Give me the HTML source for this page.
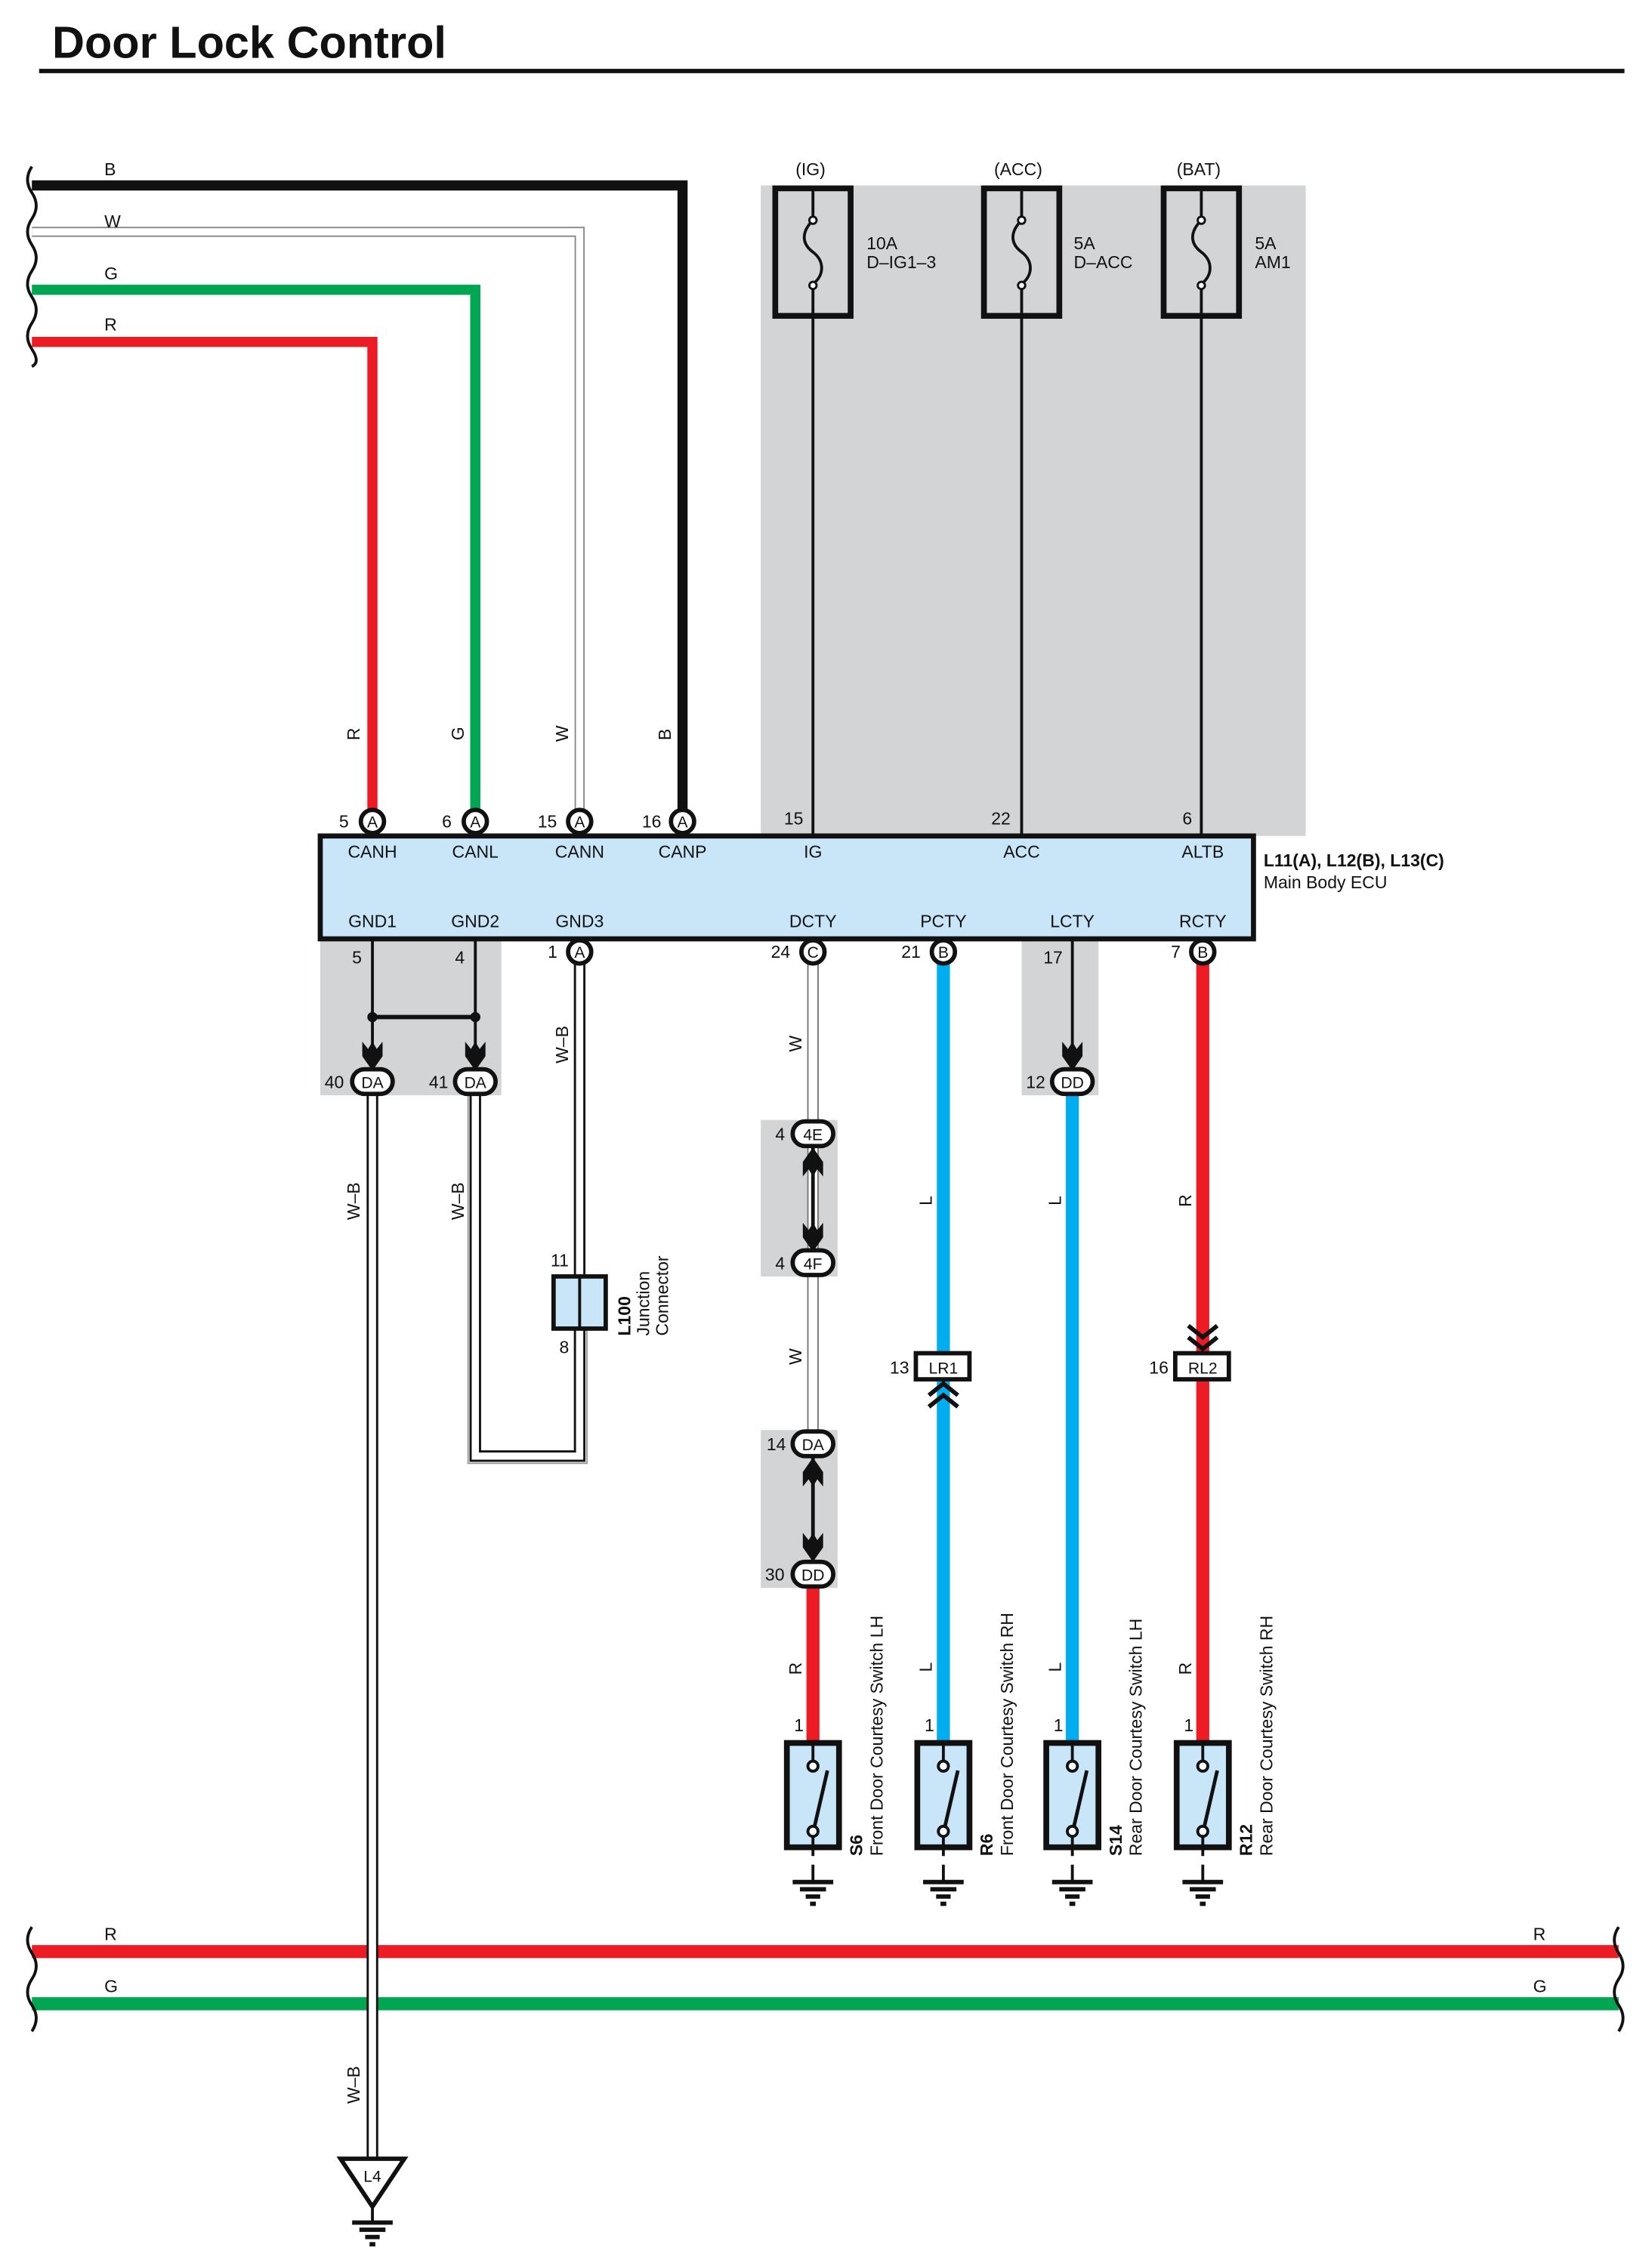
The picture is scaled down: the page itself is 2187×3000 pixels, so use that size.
<!DOCTYPE html>
<html><head><meta charset="utf-8"><style>
html,body{margin:0;padding:0;background:#fff}
svg{display:block}
text{font-family:"Liberation Sans",Arial,sans-serif;fill:#111}
</style></head><body>
<svg width="2187" height="3000" viewBox="0 0 1140 1564" preserveAspectRatio="none" xmlns="http://www.w3.org/2000/svg">
<defs>
<g id="gnd"><line x1="0" y1="0" x2="0" y2="12" stroke="#111" stroke-width="2"/><line x1="-14" y1="12" x2="14" y2="12" stroke="#111" stroke-width="3"/><line x1="-9" y1="17" x2="9" y2="17" stroke="#111" stroke-width="3"/><line x1="-5" y1="22" x2="5" y2="22" stroke="#111" stroke-width="3"/><line x1="-2" y1="27" x2="2" y2="27" stroke="#111" stroke-width="3"/></g>
<g id="sw"><rect x="-18" y="0" width="36" height="72" fill="#c8e6f8" stroke="#111" stroke-width="4"/><line x1="0" y1="0" x2="0" y2="12" stroke="#111" stroke-width="2"/><circle cx="0" cy="16" r="3.5" fill="#fff" stroke="#111" stroke-width="2"/><circle cx="0" cy="61" r="3.5" fill="#fff" stroke="#111" stroke-width="2"/><line x1="1" y1="58" x2="10" y2="19" stroke="#111" stroke-width="2.5"/><line x1="0" y1="64" x2="0" y2="78" stroke="#111" stroke-width="2"/><use href="#gnd" transform="translate(0,84)"/></g>
<g id="fuse"><rect x="-26" y="0" width="52" height="88" fill="none" stroke="#111" stroke-width="4"/><line x1="0" y1="0" x2="0" y2="20" stroke="#111" stroke-width="2"/><path d="M0,22 C-8,30 -8,38 0,44 C8,50 8,60 0,66" fill="none" stroke="#111" stroke-width="2"/><circle cx="0" cy="22" r="2.5" fill="#fff" stroke="#111" stroke-width="1.5"/><circle cx="0" cy="67" r="2.5" fill="#fff" stroke="#111" stroke-width="1.5"/><line x1="0" y1="70" x2="0" y2="88" stroke="#111" stroke-width="2"/></g>
<g id="arrD"><path d="M-7,-12 L-3,-7 L0,-12 L3,-7 L7,-12 L7,-2 L0,8 L-7,-2 Z" fill="#111"/></g>
<g id="arrU"><path d="M-7,12 L-3,7 L0,12 L3,7 L7,12 L7,2 L0,-8 L-7,2 Z" fill="#111"/></g>
</defs>

<text x="36" y="40" font-size="31" font-weight="bold">Door Lock Control</text>
<line x1="27" y1="49" x2="1121" y2="49" stroke="#111" stroke-width="3"/>

<!-- gray regions -->
<rect x="525" y="128" width="376" height="449" fill="#d3d4d6"/>
<rect x="221" y="648" width="125" height="108" fill="#d3d4d6"/>
<rect x="705" y="648" width="53" height="108" fill="#d3d4d6"/>
<rect x="525" y="773" width="53" height="108" fill="#d3d4d6"/>
<rect x="525" y="987" width="53" height="109" fill="#d3d4d6"/>

<!-- top wires -->
<polyline points="22,128 471,128 471,567" fill="none" stroke="#111" stroke-width="7"/>
<polyline points="22,160 400,160 400,567" fill="none" stroke="#888" stroke-width="7"/>
<polyline points="22,160 400,160 400,567" fill="none" stroke="#fff" stroke-width="5"/>
<polyline points="22,200 328,200 328,567" fill="none" stroke="#00a651" stroke-width="7"/>
<polyline points="22,236 257,236 257,567" fill="none" stroke="#ed1c24" stroke-width="7"/>
<path d="M22,115 q-6,9 0,18 q6,9 0,18 q-6,9 0,18 q6,9 0,18 q-6,9 0,18 q6,9 0,18 q-6,9 0,18 q6,9 0,12" fill="none" stroke="#111" stroke-width="2"/>
<g font-size="12"><text x="72" y="121">B</text><text x="72" y="157">W</text><text x="72" y="193">G</text><text x="72" y="228">R</text></g>
<g font-size="12"><text transform="translate(248,511) rotate(-90)">R</text><text transform="translate(320,511) rotate(-90)">G</text><text transform="translate(392,512) rotate(-90)">W</text><text transform="translate(463,511) rotate(-90)">B</text></g>

<!-- fuses -->
<use href="#fuse" transform="translate(561,130)"/><use href="#fuse" transform="translate(705,130)"/><use href="#fuse" transform="translate(829,130)"/>
<g stroke="#111" stroke-width="2"><line x1="561" y1="218" x2="561" y2="577"/><line x1="705" y1="218" x2="705" y2="577"/><line x1="829" y1="218" x2="829" y2="577"/></g>
<g font-size="12"><text x="549" y="121">(IG)</text><text x="686" y="121">(ACC)</text><text x="812" y="121">(BAT)</text>
<text x="598" y="172">10A</text><text x="598" y="185">D–IG1–3</text><text x="741" y="172">5A</text><text x="741" y="185">D–ACC</text><text x="866" y="172">5A</text><text x="866" y="185">AM1</text>
<text x="541" y="569">15</text><text x="684" y="569">22</text><text x="816" y="569">6</text></g>

<!-- ECU -->
<rect x="221" y="577" width="644" height="71" fill="#c8e6f8" stroke="#111" stroke-width="3.5"/>
<g font-size="12" text-anchor="middle"><text x="257" y="592">CANH</text><text x="328" y="592">CANL</text><text x="400" y="592">CANN</text><text x="471" y="592">CANP</text><text x="561" y="592">IG</text><text x="705" y="592">ACC</text><text x="830" y="592">ALTB</text>
<text x="257" y="640">GND1</text><text x="328" y="640">GND2</text><text x="400" y="640">GND3</text><text x="561" y="640">DCTY</text><text x="651" y="640">PCTY</text><text x="740" y="640">LCTY</text><text x="830" y="640">RCTY</text></g>
<text x="872" y="598" font-size="12" font-weight="bold">L11(A), L12(B), L13(C)</text>
<text x="872" y="613" font-size="12">Main Body ECU</text>

<!-- top connector circles -->
<g stroke="#111" stroke-width="3" fill="#fff"><circle cx="257" cy="567" r="8"/><circle cx="328" cy="567" r="8"/><circle cx="400" cy="567" r="8"/><circle cx="471" cy="567" r="8"/></g>
<g font-size="11" text-anchor="middle"><text x="257" y="571">A</text><text x="328" y="571">A</text><text x="400" y="571">A</text><text x="471" y="571">A</text></g>
<g font-size="12"><text x="234" y="571">5</text><text x="305" y="571">6</text><text x="371" y="571">15</text><text x="443" y="571">16</text></g>

<!-- lower wiring -->
<g stroke="#111" stroke-width="2"><line x1="257" y1="648" x2="257" y2="735"/><line x1="328" y1="648" x2="328" y2="735"/><line x1="740" y1="648" x2="740" y2="735"/></g>
<line x1="257" y1="702" x2="328" y2="702" stroke="#111" stroke-width="3"/>
<circle cx="257" cy="702" r="3.5" fill="#111"/><circle cx="328" cy="702" r="3.5" fill="#111"/>
<use href="#arrD" transform="translate(257,731)"/><use href="#arrD" transform="translate(328,731)"/><use href="#arrD" transform="translate(740,731)"/>

<!-- colored vertical wires -->
<line x1="651" y1="665" x2="651" y2="1203" stroke="#00aeef" stroke-width="9"/>
<line x1="740" y1="756" x2="740" y2="1203" stroke="#00aeef" stroke-width="9"/>
<line x1="830" y1="665" x2="830" y2="1203" stroke="#ed1c24" stroke-width="9"/>
<line x1="561" y1="1096" x2="561" y2="1203" stroke="#ed1c24" stroke-width="9"/>
<!-- W DCTY -->
<g><line x1="561" y1="665" x2="561" y2="997" stroke="#777" stroke-width="8"/><line x1="561" y1="665" x2="561" y2="997" stroke="#fff" stroke-width="6"/></g>
<line x1="561" y1="790" x2="561" y2="866" stroke="#111" stroke-width="2.5"/><use href="#arrU" transform="translate(561,800)"/><use href="#arrD" transform="translate(561,856)"/>
<line x1="561" y1="1004" x2="561" y2="1080" stroke="#111" stroke-width="2.5"/><use href="#arrU" transform="translate(561,1014)"/><use href="#arrD" transform="translate(561,1070)"/>

<!-- W-B wires -->
<g fill="none">
<polyline points="328,755 328,1005 400,1005 400,917" stroke="#111" stroke-width="8"/>
<polyline points="328,755 328,1005 400,1005 400,917" stroke="#fff" stroke-width="5"/>
<line x1="400" y1="665" x2="400" y2="881" stroke="#111" stroke-width="8"/><line x1="400" y1="665" x2="400" y2="881" stroke="#fff" stroke-width="5"/>
<polyline points="323,755 323,1010 405,1010 405,917" stroke="#999" stroke-width="1"/>
</g>

<!-- bottom horizontal wires -->
<line x1="22" y1="1347" x2="1117" y2="1347" stroke="#ed1c24" stroke-width="9"/>
<line x1="22" y1="1383" x2="1117" y2="1383" stroke="#00a651" stroke-width="9"/>
<path d="M22,1330 q-6,9 0,18 q6,9 0,18 q-6,9 0,18 q6,9 0,18" fill="none" stroke="#111" stroke-width="2"/>
<path d="M1117,1330 q-6,9 0,18 q6,9 0,18 q-6,9 0,18 q6,9 0,18" fill="none" stroke="#111" stroke-width="2"/>
<g font-size="12"><text x="72" y="1339">R</text><text x="72" y="1375">G</text><text x="1058" y="1339">R</text><text x="1058" y="1375">G</text></g>

<line x1="257" y1="755" x2="257" y2="1490" stroke="#111" stroke-width="8"/>
<line x1="257" y1="755" x2="257" y2="1490" stroke="#fff" stroke-width="5"/>
<path d="M235,1490 L279,1490 L257,1523 Z" fill="#fff" stroke="#111" stroke-width="3"/>
<text x="257" y="1506" font-size="11" text-anchor="middle">L4</text>
<use href="#gnd" transform="translate(257,1522)"/>

<!-- bottom ECU circles -->
<g stroke="#111" stroke-width="3" fill="#fff"><circle cx="400" cy="657" r="8"/><circle cx="561" cy="657" r="8"/><circle cx="651" cy="657" r="8"/><circle cx="830" cy="657" r="8"/></g>
<g font-size="11" text-anchor="middle"><text x="400" y="661">A</text><text x="561" y="661">C</text><text x="651" y="661">B</text><text x="830" y="661">B</text></g>
<g font-size="12"><text x="378" y="661">1</text><text x="532" y="661">24</text><text x="622" y="661">21</text><text x="808" y="661">7</text><text x="243" y="665">5</text><text x="314" y="665">4</text><text x="720" y="665">17</text></g>

<!-- oval connectors -->
<g stroke="#111" stroke-width="3" fill="#fff">
<rect x="243" y="738" width="28" height="17" rx="8.5"/><rect x="314" y="738" width="28" height="17" rx="8.5"/><rect x="726" y="738" width="28" height="17" rx="8.5"/>
<rect x="547" y="774" width="28" height="17" rx="8.5"/><rect x="547" y="863" width="28" height="17" rx="8.5"/>
<rect x="547" y="988" width="28" height="17" rx="8.5"/><rect x="547" y="1078" width="28" height="17" rx="8.5"/>
</g>
<g font-size="11" text-anchor="middle"><text x="257" y="751">DA</text><text x="328" y="751">DA</text><text x="740" y="751">DD</text><text x="561" y="787">4E</text><text x="561" y="876">4F</text><text x="561" y="1001">DA</text><text x="561" y="1091">DD</text></g>
<g font-size="12"><text x="224" y="751">40</text><text x="296" y="751">41</text><text x="708" y="751">12</text><text x="535" y="787">4</text><text x="535" y="876">4</text><text x="529" y="1001">14</text><text x="528" y="1091">30</text></g>

<!-- LR1 / RL2 -->
<rect x="632" y="934" width="37" height="18" fill="#fff" stroke="#111" stroke-width="3"/><text x="651" y="948" font-size="11" text-anchor="middle">LR1</text><text x="614" y="948" font-size="12">13</text>
<path d="M641,963 L651,955 L661,963 M641,971 L651,963 L661,971" fill="none" stroke="#111" stroke-width="3"/>
<rect x="811" y="934" width="37" height="18" fill="#fff" stroke="#111" stroke-width="3"/><text x="830" y="948" font-size="11" text-anchor="middle">RL2</text><text x="793" y="948" font-size="12">16</text>
<path d="M820,915 L830,923 L840,915 M820,923 L830,931 L840,923" fill="none" stroke="#111" stroke-width="3"/>

<!-- junction L100 -->
<rect x="382" y="881" width="36" height="36" fill="#c8e6f8" stroke="#111" stroke-width="3"/><line x1="400" y1="881" x2="400" y2="917" stroke="#111" stroke-width="2"/>
<text x="380" y="874" font-size="12">11</text><text x="386" y="934" font-size="12">8</text>
<text transform="translate(435,922) rotate(-90)" font-size="12" font-weight="bold">L100</text>
<text transform="translate(448,922) rotate(-90)" font-size="12">Junction</text>
<text transform="translate(461,922) rotate(-90)" font-size="12">Connector</text>

<!-- wire labels -->
<g font-size="12">
<text transform="translate(392,734) rotate(-90)">W–B</text>
<text transform="translate(248,842) rotate(-90)">W–B</text>
<text transform="translate(320,842) rotate(-90)">W–B</text>
<text transform="translate(248,1452) rotate(-90)">W–B</text>
<text transform="translate(553,726) rotate(-90)">W</text>
<text transform="translate(553,942) rotate(-90)">W</text>
<text transform="translate(643,832) rotate(-90)">L</text>
<text transform="translate(732,832) rotate(-90)">L</text>
<text transform="translate(822,833) rotate(-90)">R</text>
<text transform="translate(553,1156) rotate(-90)">R</text>
<text transform="translate(643,1154) rotate(-90)">L</text>
<text transform="translate(732,1154) rotate(-90)">L</text>
<text transform="translate(822,1156) rotate(-90)">R</text>
<text x="548" y="1195">1</text><text x="638" y="1195">1</text><text x="727" y="1195">1</text><text x="817" y="1195">1</text>
</g>

<!-- switches -->
<use href="#sw" transform="translate(561,1203)"/><use href="#sw" transform="translate(651,1203)"/><use href="#sw" transform="translate(740,1203)"/><use href="#sw" transform="translate(830,1203)"/>
<g font-size="12">
<text transform="translate(595,1281) rotate(-90)" font-weight="bold">S6</text><text transform="translate(609,1281) rotate(-90)">Front Door Courtesy Switch LH</text>
<text transform="translate(685,1281) rotate(-90)" font-weight="bold">R6</text><text transform="translate(699,1281) rotate(-90)">Front Door Courtesy Switch RH</text>
<text transform="translate(774,1281) rotate(-90)" font-weight="bold">S14</text><text transform="translate(788,1281) rotate(-90)">Rear Door Courtesy Switch LH</text>
<text transform="translate(864,1281) rotate(-90)" font-weight="bold">R12</text><text transform="translate(878,1281) rotate(-90)">Rear Door Courtesy Switch RH</text>
</g>
</svg>
</body></html>
